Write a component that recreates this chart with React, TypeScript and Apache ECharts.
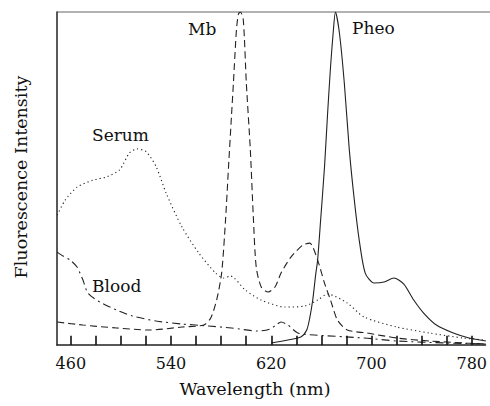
import React, { useEffect, useRef } from "react";
import * as echarts from "echarts";

// wavelength (nm), fluorescence intensity (relative, 0-100)
const mbData: [number, number][] = [
  [449.2, 6.9], [469.7, 6.0], [496.6, 5.1], [522.7, 4.5], [548.8, 5.4], [566.1, 6.0],
  [571.7, 8.1], [576.4, 13.5], [580.4, 21.6], [583.5, 37.5], [585.9, 53.5], [588.3, 69.1],
  [589.8, 78.7], [592.2, 94.6], [593.8, 99.4], [595.4, 100], [597.7, 97.6], [600.1, 78.7],
  [603.3, 58.6], [605.7, 38.4], [608.0, 23.4], [612.0, 17.4], [617.5, 15.9], [623.0, 17.4],
  [627.8, 21.6], [635.7, 26.4], [645.2, 30.0], [650.7, 30.6], [657.0, 25.5], [662.5, 18.6],
  [667.3, 13.5], [672.8, 7.5], [680.7, 4.5], [696.5, 3.6], [720.2, 2.1], [746.3, 1.2],
  [775.5, 0.6], [791.3, 0.3],
];

const serumData: [number, number][] = [
  [449.2, 39.0], [455.5, 43.5], [465.0, 47.4], [477.6, 49.5], [488.7, 50.5], [499.0, 52.6],
  [506.9, 57.7], [513.2, 58.9], [520.3, 58.0], [528.2, 53.5], [536.1, 45.6], [548.8, 35.4],
  [562.2, 27.6], [575.6, 21.6], [582.0, 20.1], [587.5, 20.7], [599.3, 16.5], [612.0, 13.5],
  [631.0, 11.4], [646.7, 11.7], [657.0, 13.5], [664.9, 15.3], [680.7, 12.6], [694.1, 8.4],
  [720.2, 5.4], [746.3, 3.6], [773.2, 2.1], [791.3, 1.5],
];

const bloodData: [number, number][] = [
  [449.2, 27.9], [453.9, 26.7], [459.5, 25.5], [465.0, 23.4], [469.7, 19.5], [473.7, 15.6],
  [483.2, 12.9], [496.6, 10.5], [509.3, 8.7], [528.2, 7.2], [548.8, 6.3], [570.1, 5.7],
  [588.3, 5.1], [609.6, 4.2], [619.1, 4.8], [623.8, 6.0], [627.8, 6.9], [633.3, 6.0],
  [641.2, 3.6], [654.6, 3.0], [694.1, 2.1], [720.2, 1.2], [759.7, 0.6], [791.3, 0.3],
];

const pheoData: [number, number][] = [
  [619.9, 0.6], [633.3, 1.5], [643.6, 2.4], [648.3, 4.5], [650.7, 8.1], [653.1, 13.5],
  [655.4, 21.0], [657.0, 25.5], [659.4, 37.5], [662.5, 53.5], [664.9, 69.1], [667.3, 83.5],
  [669.6, 94.6], [671.2, 100], [674.4, 93.7], [678.3, 78.7], [682.3, 58.6], [686.3, 43.5],
  [690.2, 31.5], [695.0, 21.6], [702.0, 18.6], [710.0, 18.9], [717.9, 20.1], [725.8, 18.3],
  [733.7, 13.5], [741.6, 9.6], [751.8, 6.0], [765.3, 3.6], [777.9, 2.1], [791.3, 1.2],
];

const xTickValues = [460, 480, 500, 520, 540, 560, 580, 600, 620, 640, 660, 680, 700, 720, 740, 760, 780];
const xLabelValues = [460, 540, 620, 700, 780];
const TICK_LEN = 2.8; // inward tick length, in intensity units

const FONT = "DejaVu Serif";
const INK = "#222";

export default function App() {
  const ref = useRef<HTMLDivElement>(null);

  useEffect(() => {
    document.body.style.margin = "0";
    if (!ref.current) return;
    const chart = echarts.init(ref.current, undefined, { renderer: "svg" });
    const lineSeries = (name: string, data: [number, number][], type: any) => ({
      name,
      type: "line",
      data,
      showSymbol: false,
      smooth: 0.25,
      lineStyle: { color: INK, width: 1.1, type },
      z: 3,
    });
    const seriesLabel = (text: string, x: number, y: number) => ({
      type: "text",
      x,
      y,
      style: { text, fontSize: 17, fontFamily: FONT, fill: "#111", verticalAlign: "middle" },
    });
    chart.setOption({
      animation: false,
      backgroundColor: "#fff",
      textStyle: { fontFamily: FONT },
      grid: { left: 57, right: 0, top: 12, bottom: 61 },
      xAxis: {
        type: "value",
        min: 449,
        max: 791,
        axisLine: { show: true, lineStyle: { color: INK, width: 1.5 } },
        axisTick: { show: false },
        axisLabel: {
          customValues: xLabelValues,
          fontSize: 16,
          fontFamily: FONT,
          color: "#111",
          margin: 10,
        },
        splitLine: { show: false },
      },
      yAxis: {
        type: "value",
        min: 0,
        max: 100,
        axisLine: { show: true, lineStyle: { color: INK, width: 1.5 } },
        axisTick: { show: false },
        axisLabel: { show: false },
        splitLine: { show: false },
      },
      series: [
        lineSeries("Mb", mbData, [7, 4]),
        lineSeries("Serum", serumData, [1.2, 3]),
        lineSeries("Blood", bloodData, [8, 4, 2, 4]),
        {
          ...lineSeries("Pheo", pheoData, "solid"),
          markLine: {
            silent: true,
            symbol: ["none", "none"],
            label: { show: false },
            lineStyle: { color: "#111", width: 1.6, type: "solid", opacity: 1 },
            data: xTickValues.map((v) => [{ coord: [v, 0] }, { coord: [v, TICK_LEN] }]),
          },
        },
      ],
      graphic: [
        {
          type: "line",
          shape: { x1: 57, y1: 12, x2: 490, y2: 12 },
          style: { stroke: "#999", lineWidth: 1.5 },
        },
        {
          type: "text",
          x: 21,
          y: 177,
          rotation: Math.PI / 2,
          style: {
            text: "Fluorescence Intensity",
            fontSize: 17.5,
            fontFamily: FONT,
            fill: "#111",
            align: "center",
            verticalAlign: "middle",
          },
        },
        {
          type: "text",
          x: 255,
          y: 389,
          style: {
            text: "Wavelength (nm)",
            fontSize: 17.5,
            fontFamily: FONT,
            fill: "#111",
            align: "center",
            verticalAlign: "middle",
          },
        },
        seriesLabel("Mb", 188, 29),
        seriesLabel("Pheo", 352, 28),
        seriesLabel("Serum", 92, 135),
        seriesLabel("Blood", 92, 286),
      ],
    });
    return () => chart.dispose();
  }, []);

  return <div ref={ref} style={{ width: 490, height: 406 }} />;
}
